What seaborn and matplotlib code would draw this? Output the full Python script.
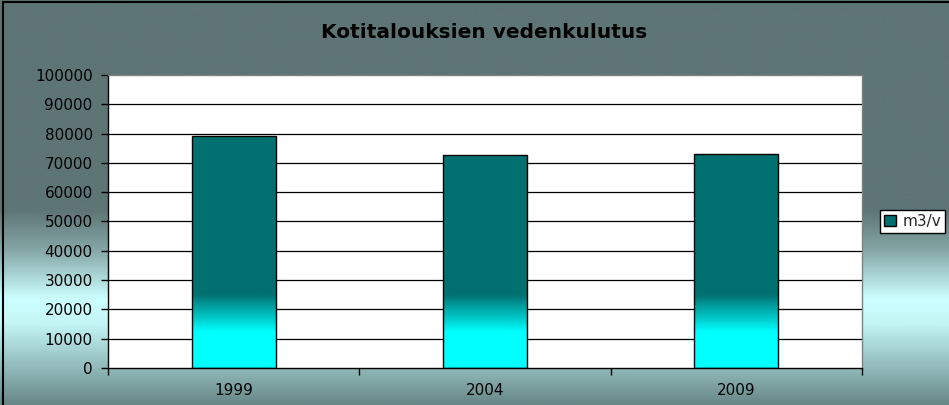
import numpy as np
import pandas as pd
import matplotlib
matplotlib.use("Agg")
import matplotlib.pyplot as plt
import seaborn as sns
from matplotlib.colors import LinearSegmentedColormap
from matplotlib.patches import Rectangle, Patch

# ---- data ----
years = ["1999", "2004", "2009"]
consumption = [79300, 72600, 73000]
series_label = "m3/v"
title = "Kotitalouksien vedenkulutus"
y_ticks = [0, 10000, 20000, 30000, 40000, 50000, 60000, 70000, 80000, 90000, 100000]

df = pd.DataFrame({"year": years, "value": consumption})

sns.set_theme(style="white")
plt.rcParams["font.family"] = ["DejaVu Sans"]

W, H = 949, 405
fig = plt.figure(figsize=(W / 100, H / 100), dpi=100)

# background gradient
bg_ax = fig.add_axes([0, 0, 1, 1], zorder=-5)
bg_cmap = LinearSegmentedColormap.from_list(
    "bg",
    [(0.0, "#5E7575"), (0.52, "#5E7575"), (0.62, "#86A8A8"),
     (0.74, "#CCFFFF"), (0.80, "#C4F6F6"), (1.0, "#688888")])
grad = np.linspace(0, 1, 400).reshape(-1, 1)
bg_ax.imshow(grad, aspect="auto", cmap=bg_cmap, extent=[0, 1, 1, 0])
bg_ax.set_xlim(0, 1)
bg_ax.set_ylim(1, 0)
bg_ax.axis("off")

# outer border
fig.patches.append(Rectangle((3 / W, -0.1), 1.2, 1 - 2 / H + 0.1, transform=fig.transFigure,
                             fill=False, edgecolor="black", linewidth=1.5, zorder=10))

ax = fig.add_axes([108 / W, 1 - 368 / H, (862 - 108) / W, (368 - 75) / H])
ax.set_facecolor("white")

sns.barplot(data=df, x="year", y="value", color="#006F6F", width=0.335, ax=ax,
            edgecolor="black", linewidth=1.0, zorder=3)

ax.set_ylim(0, 100000)
ax.set_xlim(-0.5, len(years) - 0.5)
ax.set_yticks(y_ticks)
ax.set_yticklabels([str(v) for v in y_ticks])
ax.set_xlabel("")
ax.set_ylabel("")

# gridlines
for v in y_ticks[1:-1]:
    ax.axhline(v, color="black", linewidth=0.9, zorder=1)

# bar gradient fill
bar_cmap = LinearSegmentedColormap.from_list(
    "bar", [(0.0, "#00FFFF"), (0.12, "#00FFFF"), (0.25, "#007070"), (1.0, "#007070")])
ygrad = np.linspace(0, 1, 500).reshape(-1, 1)
for p in list(ax.patches):
    x0 = p.get_x()
    w = p.get_width()
    im = ax.imshow(ygrad, origin="lower", aspect="auto", cmap=bar_cmap,
                   extent=[x0, x0 + w, 0, 100000], zorder=2)
    im.set_clip_path(p)
    p.set_facecolor("none")
ax.set_ylim(0, 100000)
ax.set_xlim(-0.5, len(years) - 0.5)
ax.set_aspect("auto")

# spines
for s in ["left", "bottom"]:
    ax.spines[s].set_color("black")
    ax.spines[s].set_linewidth(1.0)
for s in ["top", "right"]:
    ax.spines[s].set_color("#808080")
    ax.spines[s].set_linewidth(1.0)

ax.tick_params(axis="y", which="major", direction="out", length=5, width=1,
               color="black", labelsize=11, pad=6, left=True, labelcolor="black")
ax.set_xticks(range(len(years)))
ax.set_xticklabels(years)
ax.set_xticks([-0.5, 0.5, 1.5, 2.5], minor=True)
ax.tick_params(axis="x", which="major", length=0, labelsize=11, pad=11, labelcolor="black")
ax.tick_params(axis="x", which="minor", direction="out", length=5, width=1,
               color="black", bottom=True)

# title
fig.text(484 / W, 1 - 33 / H, title, ha="center", va="center",
         fontsize=14.5, fontweight="bold", color="black")

# legend
handle = Patch(facecolor="#006F6F", edgecolor="black", linewidth=1.0, label=series_label)
leg = fig.legend(handles=[handle], loc="upper left",
                 bbox_to_anchor=(880 / W, 1 - 210 / H), frameon=True, fancybox=False,
                 fontsize=11, borderpad=0.25, handlelength=0.8, handleheight=0.8,
                 handletextpad=0.4, borderaxespad=0)
leg.get_frame().set_edgecolor("black")
leg.get_frame().set_facecolor("white")
leg.get_frame().set_linewidth(1.0)
leg.get_frame().set_alpha(1)

fig.savefig("out.png", dpi=100)
